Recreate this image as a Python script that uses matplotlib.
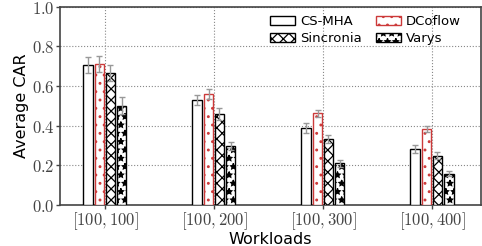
import numpy as np
import matplotlib.pyplot as plt

plt.rcParams['mathtext.fontset'] = 'cm'
plt.rcParams['hatch.linewidth'] = 0.9

workloads = ['$[100,100]$', '$[100,200]$', '$[100,300]$', '$[100,400]$']
methods = ['CS-MHA', 'DCoflow', 'Sincronia', 'Varys']
car = {
    'CS-MHA': [0.708, 0.530, 0.390, 0.283],
    'DCoflow': [0.713, 0.558, 0.462, 0.385],
    'Sincronia': [0.667, 0.460, 0.335, 0.248],
    'Varys': [0.502, 0.298, 0.210, 0.157],
}
err = {
    'CS-MHA': [0.040, 0.025, 0.025, 0.020],
    'DCoflow': [0.040, 0.025, 0.018, 0.015],
    'Sincronia': [0.040, 0.030, 0.020, 0.017],
    'Varys': [0.045, 0.022, 0.016, 0.013],
}
yticks = [0.0, 0.2, 0.4, 0.6, 0.8, 1.0]

styles = {
    'CS-MHA': dict(edgecolor='black', hatch=''),
    'DCoflow': dict(edgecolor='#cc3a3a', hatch='..'),
    'Sincronia': dict(edgecolor='black', hatch='xxx'),
    'Varys': dict(edgecolor='black', hatch='**'),
}

fig, ax = plt.subplots(figsize=(4.82, 2.46), dpi=100)
x = np.arange(len(workloads))
width = 0.085
offsets = [-0.155, -0.05, 0.05, 0.155]
bars = {}
for m, off in zip(methods, offsets):
    bars[m] = ax.bar(x + off, car[m], width, yerr=err[m], color='white', linewidth=1.0,
                     label=m, error_kw=dict(ecolor='#999999', capsize=2.5, elinewidth=1.0),
                     zorder=3, **styles[m])

ax.set_xlim(-0.41, 3.45)
ax.set_ylim(0, 1.0)
ax.set_xticks(x)
ax.set_xticklabels(workloads, fontsize=12, color='#444444')
ax.set_yticks(yticks)
ax.set_yticklabels(['$%.1f$' % v for v in yticks], fontsize=12, color='#444444')
ax.set_xlabel('Workloads', fontsize=11.5, labelpad=0)
ax.set_ylabel('Average CAR', fontsize=11.5, labelpad=2)
ax.grid(True, linestyle=':', color='#888888', linewidth=0.8, zorder=0)
for s in ax.spines.values():
    s.set_color('#444444')
    s.set_linewidth(1.2)
ax.tick_params(length=3, width=1, color='#444444', pad=1)

order = ['CS-MHA', 'Sincronia', 'DCoflow', 'Varys']
ax.legend([bars[m] for m in order], order, ncol=2, loc='upper right', frameon=False,
          fontsize=9.5, handlelength=1.9, handleheight=0.7, columnspacing=1.1,
          labelspacing=0.3, handletextpad=0.35, borderaxespad=0.0,
          bbox_to_anchor=(0.965, 0.985))

fig.subplots_adjust(left=0.125, right=0.998, top=0.972, bottom=0.167)
fig.savefig('out.png', dpi=100)
